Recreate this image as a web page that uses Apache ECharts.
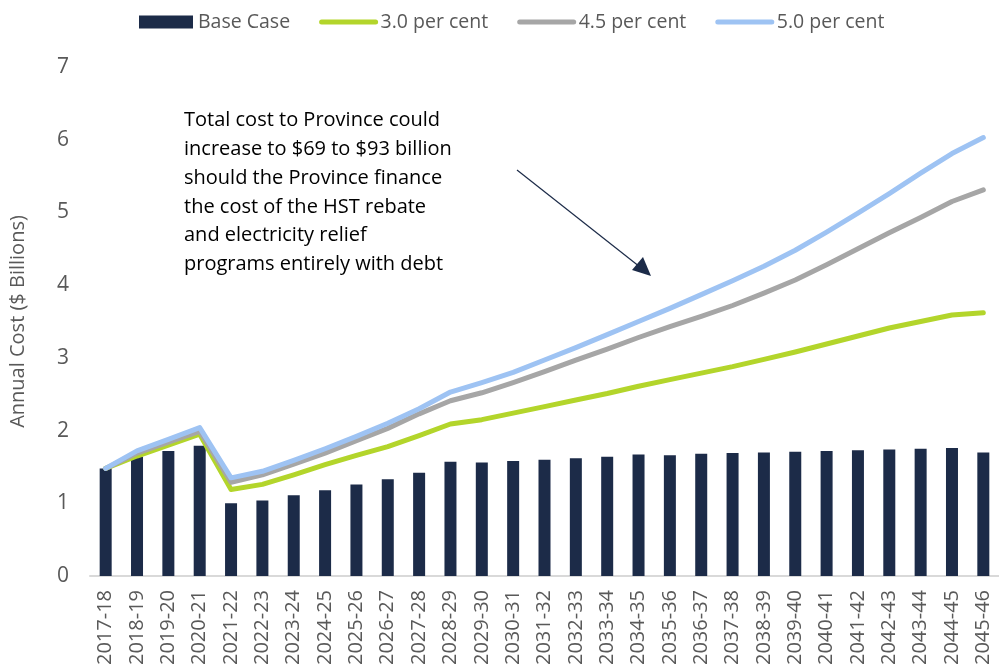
<!DOCTYPE html>
<html>
<head>
<meta charset="utf-8">
<script src="https://cdn.jsdelivr.net/npm/echarts@6/dist/echarts.min.js"></script>
<style>
html,body{margin:0;padding:0;background:#fff;}
#chart{width:999px;height:671px;}
</style>
</head>
<body>
<div id="chart"></div>
<script>
var categories = ['2017-18','2018-19','2019-20','2020-21','2021-22','2022-23','2023-24','2024-25','2025-26','2026-27','2027-28','2028-29','2029-30','2030-31','2031-32','2032-33','2033-34','2034-35','2035-36','2036-37','2037-38','2038-39','2039-40','2040-41','2041-42','2042-43','2043-44','2044-45','2045-46'];
var baseCase = [1.48,1.64,1.72,1.79,1.00,1.04,1.11,1.18,1.26,1.33,1.42,1.57,1.56,1.58,1.60,1.62,1.64,1.67,1.66,1.68,1.69,1.70,1.71,1.72,1.73,1.74,1.75,1.76,1.70];
var rate30 = [1.48,1.65,1.80,1.95,1.19,1.26,1.39,1.53,1.66,1.78,1.93,2.09,2.15,2.24,2.33,2.42,2.51,2.61,2.70,2.79,2.88,2.98,3.08,3.19,3.30,3.41,3.50,3.59,3.62];
var rate45 = [1.48,1.69,1.84,1.99,1.29,1.39,1.54,1.69,1.86,2.03,2.23,2.41,2.52,2.66,2.81,2.97,3.12,3.28,3.43,3.57,3.72,3.89,4.07,4.28,4.50,4.72,4.93,5.15,5.31];
var rate50 = [1.48,1.72,1.88,2.04,1.35,1.44,1.59,1.75,1.92,2.10,2.30,2.53,2.66,2.80,2.97,3.14,3.32,3.50,3.68,3.87,4.06,4.26,4.48,4.73,4.99,5.26,5.54,5.81,6.03];
var yTicks = [0,1,2,3,4,5,6,7];
var seriesNames = ['Base Case','3.0 per cent','4.5 per cent','5.0 per cent'];
var annotation = 'Total cost to Province could\nincrease to $69 to $93 billion\nshould the Province finance\nthe cost of the HST rebate\nand electricity relief\nprograms entirely with debt';

var FONT = '"Open Sans", "Noto Sans", sans-serif';
var C_BAR = '#1c2b48', C_G = '#b3d52b', C_GR = '#a6a6a6', C_B = '#9ec3f3';

var chart = echarts.init(document.getElementById('chart'));
function lineSeries(name, data, color) {
  return {
    name: name, type: 'line', data: data, symbol: 'none',
    lineStyle: {color: color, width: 5, cap: 'round', join: 'round'},
    itemStyle: {color: color},
    emphasis: {disabled: true}, animation: false
  };
}
function legendLine(name, color) {
  return {name: name, lineStyle: {width: 5, color: color, cap: 'round'}, itemStyle: {opacity: 0, color: color}};
}
chart.setOption({
  animation: false,
  textStyle: {fontFamily: FONT},
  grid: {left: 90, right: 0, top: 67, bottom: 95, containLabel: false},
  legend: {
    left: 134, top: 7, itemWidth: 54, itemHeight: 13, itemGap: 29,
    textStyle: {color: '#595959', fontSize: 19.5, fontFamily: FONT},
    data: [
      {name: seriesNames[0], icon: 'rect', itemStyle: {color: C_BAR}},
      legendLine(seriesNames[1], C_G),
      legendLine(seriesNames[2], C_GR),
      legendLine(seriesNames[3], C_B)
    ]
  },
  xAxis: {
    type: 'category', data: categories, boundaryGap: true,
    axisLine: {lineStyle: {color: '#d9d9d9', width: 2}},
    axisTick: {show: false},
    axisLabel: {rotate: 90, color: '#595959', fontSize: 20, fontFamily: FONT, margin: 14, interval: 0}
  },
  yAxis: {
    type: 'value', min: yTicks[0], max: yTicks[yTicks.length-1], interval: 1,
    name: 'Annual Cost ($ Billions)', nameLocation: 'middle', nameGap: 62, nameRotate: 90,
    nameTextStyle: {color: '#595959', fontSize: 20, fontFamily: FONT},
    axisLine: {show: false}, axisTick: {show: false}, splitLine: {show: false},
    axisLabel: {color: '#595959', fontSize: 21, fontFamily: FONT, margin: 21}
  },
  series: [
    {name: seriesNames[0], type: 'bar', data: baseCase, barWidth: 12,
     itemStyle: {color: C_BAR}, emphasis: {disabled: true}},
    lineSeries(seriesNames[1], rate30, C_G),
    lineSeries(seriesNames[2], rate45, C_GR),
    lineSeries(seriesNames[3], rate50, C_B)
  ],
  graphic: [
    {type: 'text', left: 184, top: 106, z: 100,
     style: {text: annotation, fill: '#000', fontSize: 20, fontFamily: FONT, lineHeight: 28.8}},
    {type: 'line', z: 100, shape: {x1: 517, y1: 170, x2: 640, y2: 267},
     style: {stroke: '#1c2b48', lineWidth: 1.2}},
    {type: 'polygon', z: 100, shape: {points: [[651, 276], [632, 270], [643, 257]]},
     style: {fill: '#1c2b48'}}
  ]
});
</script>
</body>
</html>
